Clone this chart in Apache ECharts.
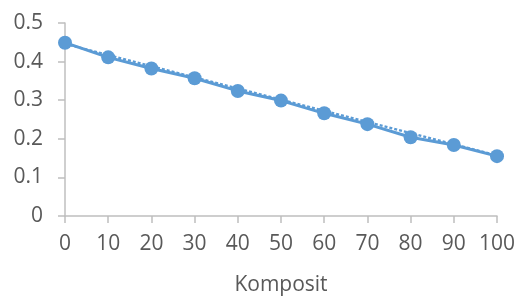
<!DOCTYPE html>
<html>
<head>
<meta charset="utf-8">
<script src="https://cdn.jsdelivr.net/npm/echarts@6/dist/echarts.min.js"></script>
<style>
  html, body { margin: 0; padding: 0; background: #fff; }
  #chart { width: 517px; height: 297px; }
</style>
</head>
<body>
<div id="chart"></div>
<script>
// Komposit (x) values and measured y values
const komposit = [0, 10, 20, 30, 40, 50, 60, 70, 80, 90, 100];
const values = [0.449, 0.411, 0.382, 0.357, 0.324, 0.299, 0.266, 0.238, 0.204, 0.184, 0.155];
// linear trendline end points
const trendX = [0, 100];
const trendY = [0.446, 0.157];

const chart = echarts.init(document.getElementById('chart'));

const axisColor = '#BFBFBF';
const labelColor = '#595959';
const fontFamily = '"Open Sans", "Liberation Sans", sans-serif';

const option = {
    animation: false,
    grid: {
        left: 65,
        right: 20,
        top: 23,
        bottom: 81,
        outerBoundsMode: 'none'
    },
    xAxis: {
        type: 'value',
        min: 0,
        max: 100,
        interval: 10,
        name: 'Komposit',
        nameLocation: 'middle',
        nameGap: 59,
        nameTextStyle: { color: labelColor, fontSize: 21, fontFamily: fontFamily },
        axisLine: { show: true, lineStyle: { color: axisColor, width: 1.5 } },
        axisTick: { show: true, length: 7, lineStyle: { color: axisColor, width: 1.5 } },
        axisLabel: { color: labelColor, fontSize: 21, fontFamily: fontFamily, margin: 18 },
        splitLine: { show: false }
    },
    yAxis: {
        type: 'value',
        min: 0,
        max: 0.5,
        interval: 0.1,
        axisLine: { show: true, lineStyle: { color: axisColor, width: 1.5 } },
        axisTick: { show: true, length: 7, lineStyle: { color: axisColor, width: 1.5 } },
        axisLabel: { color: labelColor, fontSize: 21, fontFamily: fontFamily, margin: 22 },
        splitLine: { show: false }
    },
    series: [
        {
            name: 'trend',
            type: 'line',
            data: trendX.map((x, i) => [x, trendY[i]]),
            symbol: 'none',
            lineStyle: { color: '#5B9BD5', width: 2.5, type: [3, 2] },
            z: 1
        },
        {
            name: 'data',
            type: 'line',
            data: komposit.map((x, i) => [x, values[i]]),
            symbol: 'circle',
            symbolSize: 14,
            itemStyle: { color: '#5B9BD5' },
            lineStyle: { color: '#5B9BD5', width: 3 },
            z: 2
        }
    ]
};

chart.setOption(option);
</script>
</body>
</html>
